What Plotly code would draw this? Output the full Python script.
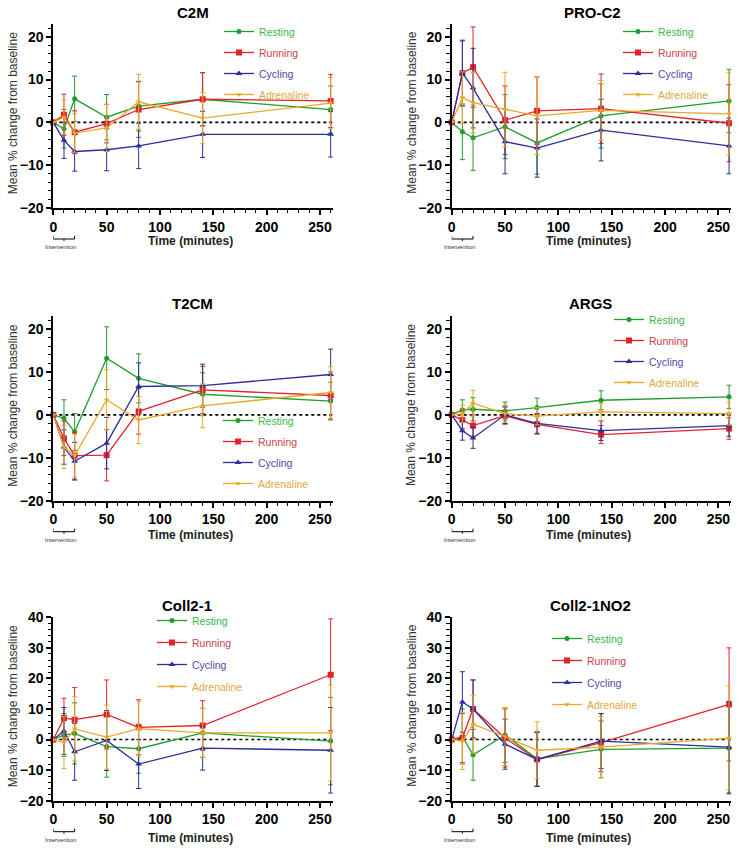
import plotly.graph_objects as go

W, H = 739, 854

TIME = [0, 10, 20, 50, 80, 140, 260]
SERIES = ["Resting", "Running", "Cycling", "Adrenaline"]
PANEL_TITLES = ["C2M", "PRO-C2", "T2CM", "ARGS", "Coll2-1", "Coll2-1NO2"]

# ---- C2M ----
C2M_RESTING = [0, -1.5, 5.5, 1.2, 3.8, 5.4, 3.0]
C2M_RESTING_SD = [0, 4.5, 5.3, 5.3, 5.8, 6.2, 5.5]
C2M_RUNNING = [0, 1.8, -2.3, -0.3, 3.0, 5.4, 5.0]
C2M_RUNNING_SD = [0, 4.8, 5.0, 4.5, 6.5, 6.2, 6.2]
C2M_CYCLING = [0, -4.2, -6.8, -6.4, -5.5, -2.8, -2.8]
C2M_CYCLING_SD = [0, 4.2, 4.6, 4.9, 5.3, 5.4, 5.3]
C2M_ADRENALINE = [0, 1.2, -2.5, -1.3, 4.8, 1.0, 4.5]
C2M_ADRENALINE_SD = [0, 4.0, 4.5, 5.5, 6.4, 6.0, 6.0]

# ---- PRO-C2 ----
PROC2_RESTING = [0, -2.2, -3.6, -1.0, -4.8, 1.5, 5.0]
PROC2_RESTING_SD = [0, 6.5, 7.6, 7.5, 7.3, 7.5, 7.4]
PROC2_RUNNING = [0, 11.5, 12.9, 0.5, 2.7, 3.2, -0.2]
PROC2_RUNNING_SD = [0, 7.5, 9.4, 8.0, 7.9, 8.1, 9.0]
PROC2_CYCLING = [0, 11.5, 8.0, -4.5, -6.0, -1.8, -5.5]
PROC2_CYCLING_SD = [0, 7.7, 9.3, 7.5, 6.8, 7.2, 6.5]
PROC2_ADRENALINE = [0, 5.8, 4.6, 3.0, 1.5, 2.8, 2.0]
PROC2_ADRENALINE_SD = [0, 6.0, 7.0, 8.7, 9.0, 7.0, 9.6]

# ---- T2CM ----
T2CM_RESTING = [0, -0.8, -4.0, 13.2, 8.5, 4.8, 3.2]
T2CM_RESTING_SD = [0, 4.3, 4.3, 7.3, 5.7, 5.0, 4.4]
T2CM_RUNNING = [0, -5.5, -9.5, -9.4, 0.8, 5.8, 4.5]
T2CM_RUNNING_SD = [0, 4.0, 5.5, 6.0, 5.3, 5.5, 5.5]
T2CM_CYCLING = [0, -7.5, -10.8, -6.6, 6.6, 6.8, 9.4]
T2CM_CYCLING_SD = [0, 4.0, 4.4, 6.0, 5.5, 5.0, 5.9]
T2CM_ADRENALINE = [0, -7.5, -9.5, 3.5, -1.2, 2.1, 5.2]
T2CM_ADRENALINE_SD = [0, 5.0, 5.0, 7.0, 5.5, 5.1, 6.0]

# ---- ARGS ----
ARGS_RESTING = [0, 1.2, 1.3, 0.9, 1.7, 3.4, 4.2]
ARGS_RESTING_SD = [0, 2.3, 2.7, 2.1, 2.2, 2.2, 2.7]
ARGS_RUNNING = [0, -1.2, -2.5, -0.2, -2.2, -4.6, -3.2]
ARGS_RUNNING_SD = [0, 2.0, 2.5, 2.0, 2.3, 2.1, 2.5]
ARGS_CYCLING = [0, -3.7, -5.4, 0.0, -2.0, -3.7, -2.5]
ARGS_CYCLING_SD = [0, 2.2, 2.4, 2.0, 2.3, 2.3, 2.5]
ARGS_ADRENALINE = [0, 0.2, 2.7, 0.3, -0.3, 0.7, 0.3]
ARGS_ADRENALINE_SD = [0, 2.0, 3.0, 2.0, 2.0, 2.0, 2.7]

# ---- Coll2-1 ----
COLL_RESTING = [0, 1.5, 2.0, -2.3, -3.0, 2.2, -0.5]
COLL_RESTING_SD = [0, 7.0, 10.0, 10.0, 8.0, 8.0, 14.3]
COLL_RUNNING = [0, 7.0, 6.5, 8.2, 4.0, 4.6, 21.2]
COLL_RUNNING_SD = [0, 6.5, 10.5, 11.3, 9.0, 8.1, 18.3]
COLL_CYCLING = [0, 2.8, -4.0, -0.3, -8.0, -2.8, -3.5]
COLL_CYCLING_SD = [0, 7.7, 9.3, 9.8, 8.0, 7.2, 14.0]
COLL_ADRENALINE = [0, -1.0, 3.5, 0.8, 3.6, 2.2, 2.2]
COLL_ADRENALINE_SD = [0, 8.5, 10.5, 10.5, 9.0, 8.0, 15.7]

# ---- Coll2-1NO2 ----
NO2_RESTING = [0, 1.0, -5.0, 1.5, -6.3, -3.2, -2.8]
NO2_RESTING_SD = [0, 9.0, 8.3, 9.0, 9.0, 9.3, 15.0]
NO2_RUNNING = [0, 0.5, 10.0, 0.5, -6.5, -1.0, 11.5]
NO2_RUNNING_SD = [0, 8.0, 9.5, 9.5, 8.8, 9.5, 18.5]
NO2_CYCLING = [0, 12.3, 10.0, -1.5, -6.5, -0.5, -2.5]
NO2_CYCLING_SD = [0, 9.9, 9.5, 8.2, 8.8, 9.0, 15.0]
NO2_ADRENALINE = [0, -0.5, 5.0, 1.0, -3.5, -2.5, 0.5]
NO2_ADRENALINE_SD = [0, 9.3, 9.5, 9.5, 9.3, 10.0, 17.0]

PANEL_DATA = [
    [(C2M_RESTING, C2M_RESTING_SD), (C2M_RUNNING, C2M_RUNNING_SD),
     (C2M_CYCLING, C2M_CYCLING_SD), (C2M_ADRENALINE, C2M_ADRENALINE_SD)],
    [(PROC2_RESTING, PROC2_RESTING_SD), (PROC2_RUNNING, PROC2_RUNNING_SD),
     (PROC2_CYCLING, PROC2_CYCLING_SD), (PROC2_ADRENALINE, PROC2_ADRENALINE_SD)],
    [(T2CM_RESTING, T2CM_RESTING_SD), (T2CM_RUNNING, T2CM_RUNNING_SD),
     (T2CM_CYCLING, T2CM_CYCLING_SD), (T2CM_ADRENALINE, T2CM_ADRENALINE_SD)],
    [(ARGS_RESTING, ARGS_RESTING_SD), (ARGS_RUNNING, ARGS_RUNNING_SD),
     (ARGS_CYCLING, ARGS_CYCLING_SD), (ARGS_ADRENALINE, ARGS_ADRENALINE_SD)],
    [(COLL_RESTING, COLL_RESTING_SD), (COLL_RUNNING, COLL_RUNNING_SD),
     (COLL_CYCLING, COLL_CYCLING_SD), (COLL_ADRENALINE, COLL_ADRENALINE_SD)],
    [(NO2_RESTING, NO2_RESTING_SD), (NO2_RUNNING, NO2_RUNNING_SD),
     (NO2_CYCLING, NO2_CYCLING_SD), (NO2_ADRENALINE, NO2_ADRENALINE_SD)],
]

X_TICKS = [0, 50, 100, 150, 200, 250]
Y_TICKS_SMALL = [-20, -10, 0, 10, 20]
Y_TICKS_LARGE = [-20, -10, 0, 10, 20, 30, 40]

LINE_COLORS = ["#1f9e2c", "#e3232b", "#2b2f9b", "#e9a825"]
TEXT_COLORS = ["#3cb84a", "#c9414b", "#4b4aa6", "#e3a83a"]
SYMBOLS = ["circle", "square", "triangle-up", "triangle-down"]
SIZES = [5, 6, 6, 5]

FONT = "Liberation Sans, Arial, sans-serif"


def px_x(v):
    return v / W


def px_y(v):
    return 1 - v / H


# plot-area geometry in pixels: (left, right) / (top, bottom)
LEFT_COL = (53.3, 332.8)
RIGHT_COL = (451.7, 731.2)
ROWS = [(23.9, 208.0), (316.1, 500.7), (617.3, 800.7)]
Y_RANGES = [[-20, 23], [-20, 23], [-20, 40]]

# legend layout (legend text start x px, first-row centre y px, gap)
LEGENDS = [(263, 33, 2), (662, 33, 2), (262, 422, 2), (653, 321, 2), (196, 622, 3), (591, 640, 3)]
TITLE_POS = [(193, 12), (592, 12), (192, 303), (590, 303), (187, 605), (590, 605)]
XTITLE_Y = [241, 535, 838]

fig = go.Figure()
annotations = []
shapes = []

for p in range(6):
    row, col = divmod(p, 2)
    xl, xr = LEFT_COL if col == 0 else RIGHT_COL
    yt, yb = ROWS[row]
    ax = "" if p == 0 else str(p + 1)
    xa, ya = "x" + ax, "y" + ax
    leg = "legend" if p == 0 else "legend" + str(p + 1)

    for s in range(4):
        mean, sd = PANEL_DATA[p][s]
        fig.add_trace(go.Scatter(
            x=TIME, y=mean, mode="lines+markers",
            name='<span style="color:%s">%s</span>' % (TEXT_COLORS[s], SERIES[s]),
            line=dict(color=LINE_COLORS[s], width=1.3),
            marker=dict(symbol=SYMBOLS[s], size=SIZES[s], color=LINE_COLORS[s]),
            error_y=dict(type="data", array=sd, color=LINE_COLORS[s], thickness=1, width=2.5),
            xaxis=xa, yaxis=ya, legend=leg, legendgroup="g%d_%d" % (p, s),
            cliponaxis=False,
        ))

    yticks = Y_TICKS_LARGE if row == 2 else Y_TICKS_SMALL
    axis_common = dict(
        showline=True, linecolor="black", linewidth=1.8, showgrid=False, zeroline=False,
        ticks="outside", ticklen=5, tickwidth=1.6, tickcolor="black", automargin=False,
        tickfont=dict(family=FONT, size=14, color="black", weight="bold"),
    )
    fig.layout["xaxis" + ax] = dict(
        axis_common, domain=[px_x(xl), px_x(xr)], range=[0, 262], tickvals=X_TICKS,
        anchor=ya,
        minor=dict(dtick=10, tick0=0, ticks="outside", ticklen=3.5, tickwidth=1.4, tickcolor="black"),
    )
    fig.layout["yaxis" + ax] = dict(
        axis_common, domain=[px_y(yb), px_y(yt)], range=Y_RANGES[row], tickvals=yticks,
        anchor=xa,
        minor=dict(dtick=2, tick0=0, ticks="outside", ticklen=3.5, tickwidth=1.4, tickcolor="black"),
    )

    lx, ly, gap = LEGENDS[p]
    fig.layout[leg] = dict(
        x=px_x(lx - 44), y=px_y(ly - 16), xanchor="left", yanchor="top",
        bgcolor="rgba(0,0,0,0)", font=dict(family=FONT, size=10.5),
        traceorder="grouped", tracegroupgap=gap, itemwidth=30,
    )

    # zero reference line
    shapes.append(dict(type="line", xref=xa + " domain", x0=0, x1=1, yref=ya, y0=0, y1=0,
                       line=dict(color="black", width=1.6, dash="dot"), layer="below"))

    # titles
    tx, ty = TITLE_POS[p]
    annotations.append(dict(text="<b>%s</b>" % PANEL_TITLES[p], x=px_x(tx), y=px_y(ty),
                            xref="paper", yref="paper", showarrow=False,
                            xanchor="center", yanchor="middle",
                            font=dict(family=FONT, size=15, color="black")))
    annotations.append(dict(text="<b>Time (minutes)</b>", x=px_x((xl + xr) / 2 - 3),
                            y=px_y(XTITLE_Y[row]), xref="paper", yref="paper", showarrow=False,
                            xanchor="center", yanchor="middle",
                            font=dict(family=FONT, size=12, color="#222")))
    annotations.append(dict(text="Mean % change from baseline", textangle=-90,
                            x=px_x(xl - 40), y=px_y((yt + yb) / 2 - 3), xref="paper", yref="paper",
                            xanchor="center", yanchor="middle",
                            showarrow=False, font=dict(family=FONT, size=12, color="#333")))
    # intervention bracket
    by = yb + 31
    shapes.append(dict(type="line", xref=xa, yref="paper", x0=0, x1=20, y0=px_y(by), y1=px_y(by),
                       line=dict(color="black", width=1)))
    for xv, dy in ((0, -3), (20, -3), (10, 2)):
        shapes.append(dict(type="line", xref=xa, yref="paper", x0=xv, x1=xv,
                           y0=px_y(by), y1=px_y(by + dy), line=dict(color="black", width=1)))
    annotations.append(dict(text="Intervention", xref=xa, yref="paper", x=7, y=px_y(by + 8),
                            xanchor="center", yanchor="middle",
                            showarrow=False, font=dict(family=FONT, size=6, color="#333")))

fig.update_layout(
    width=W, height=H, margin=dict(l=0, r=0, t=0, b=0, autoexpand=False),
    paper_bgcolor="white", plot_bgcolor="white",
    annotations=annotations, shapes=shapes, showlegend=True,
)

fig.write_html("out.html", config={"displayModeBar": False},
               post_script="document.body.style.margin='0';")
